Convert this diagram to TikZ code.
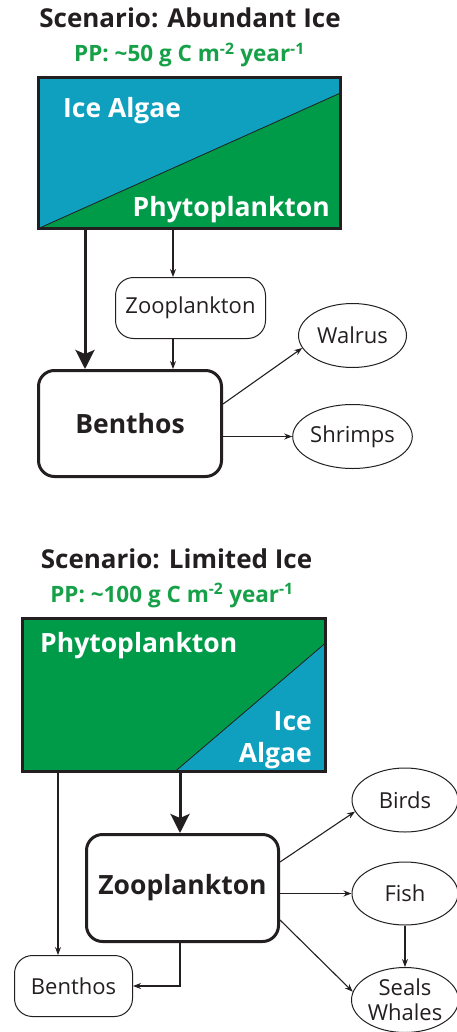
\documentclass[tikz,border=0pt]{standalone}
\usepackage{fontspec}
\setmainfont{Open Sans}
\usetikzlibrary{arrows.meta,shapes.geometric}
\definecolor{iceblue}{RGB}{14,160,190}
\definecolor{phygreen}{RGB}{0,155,72}
\definecolor{ppgreen}{RGB}{22,160,72}
\definecolor{ink}{RGB}{35,31,32}
\tikzset{
  titletext/.style={font=\bfseries\fontsize{26}{30}\selectfont, text=ink, inner sep=0pt},
  pptext/.style={font=\bfseries\fontsize{22.5}{26}\selectfont, text=ppgreen, inner sep=0pt},
  boxtext/.style={font=\bfseries\fontsize{26.5}{30}\selectfont, text=white, inner sep=0pt},
  bigbox/.style={draw=ink, line width=3pt, rounded corners=16pt, inner sep=0pt, font=\bfseries\fontsize{26.5}{30}\selectfont, text=ink},
  smallbox/.style={draw=ink, line width=1pt, rounded corners=18pt, inner sep=0pt, font=\fontsize{22}{25}\selectfont, text=ink},
  eat/.style={draw=ink, ellipse, line width=1pt, inner sep=0pt, font=\fontsize{22}{25}\selectfont, text=ink, align=center},
  frame/.style={draw=ink, line width=3pt, inner sep=0pt},
  thinarrow/.style={draw=ink, line width=1.1pt, -{Stealth[length=8pt,width=6pt]}},
  thickarrow/.style={draw=ink, line width=3pt, -{Stealth[length=19pt,width=19pt,inset=4pt]}},
}
\begin{document}
\begin{tikzpicture}[x=1pt,y=-1pt]
\useasboundingbox (0,0) rectangle (457,1032);
\fill[white] (0,0) rectangle (457,1032);
\clip (0,0) rectangle (457,1032);

% ---------- Scenario 1 ----------
\node[titletext, anchor=base] (t1) at (190,28) {Scenario: Abundant Ice};
\node[pptext, anchor=base] (pp1) at (189.5,62) {PP: \textasciitilde50 g C m\textsuperscript{-2} year\textsuperscript{-1}};
\fill[iceblue] (38.5,77.5) rectangle (340.5,228.5);
\fill[phygreen] (38.5,228.5) -- (340.5,228.5) -- (340.5,93) -- cycle;
\draw[ink, line width=0.8pt] (38.5,228.5) -- (340.5,93);
\node[frame, minimum width=302pt, minimum height=151pt] (box1) at (189.5,153) {};
\node[boxtext, anchor=base west] (ia1) at (63,118) {Ice Algae};
\node[boxtext, anchor=base east] (ph1) at (330,217) {Phytoplankton};

\node[smallbox, minimum width=150pt, minimum height=61pt] (zoo1) at (190.5,308) {Zooplankton};
\node[bigbox, minimum width=183pt, minimum height=106pt] (ben1) at (130,423.5) {Benthos};
\node[eat, minimum width=108pt, minimum height=64pt] (wal) at (352.5,335.5) {Walrus};
\node[eat, minimum width=108pt, minimum height=64pt] (shr) at (352.5,436.5) {Shrimps};

\coordinate (b1a) at (85,230);
\coordinate (b1b) at (173,230);
\draw[thickarrow] (b1a) -- (b1a |- ben1.north);
\draw[thinarrow] (b1b) -- (b1b |- zoo1.north);
\draw[thinarrow] (zoo1.south -| b1b) -- (b1b |- ben1.north);
\draw[thinarrow] ([yshift=19.5pt]ben1.east) -- (wal.194);
\draw[thinarrow] (ben1.east |- shr.west) -- (shr.west);

% ---------- Scenario 2 ----------
\node[titletext, anchor=base] (t2) at (176.5,568) {Scenario: Limited Ice};
\node[pptext, anchor=base] (pp2) at (172,602) {PP: \textasciitilde100 g C m\textsuperscript{-2} year\textsuperscript{-1}};
\fill[phygreen] (22.5,618.5) rectangle (325.5,771.5);
\fill[iceblue] (175,771.5) -- (325.5,771.5) -- (325.5,643) -- cycle;
\draw[ink, line width=0.8pt] (175,771.5) -- (325.5,643);
\node[frame, minimum width=303pt, minimum height=153pt] (box2) at (174,695) {};
\node[boxtext, anchor=base west] (ph2) at (40,652) {Phytoplankton};
\node[boxtext, anchor=base east] (ia2a) at (312,730) {Ice};
\node[boxtext, anchor=base east] (ia2b) at (312,762) {Algae};

\node[bigbox, minimum width=192pt, minimum height=107pt] (zoo2) at (182.5,888) {Zooplankton};
\node[smallbox, minimum width=118pt, minimum height=61pt] (ben2) at (73.5,986) {Benthos};
\node[eat, minimum width=106pt, minimum height=64pt] (bir) at (405,800) {Birds};
\node[eat, minimum width=106pt, minimum height=63pt] (fis) at (405,893.5) {Fish};
\node[eat, minimum width=107pt, minimum height=65pt] (sea) at (405,1000) {Seals\\Whales};

\coordinate (b2a) at (58,773);
\coordinate (b2b) at (180,773);
\draw[thinarrow] (b2a) -- (b2a |- ben2.north);
\draw[thickarrow] (b2b) -- (b2b |- zoo2.north);
\draw[thinarrow] (zoo2.south -| b2b) |- (ben2.east);
\draw[thinarrow] ([yshift=26pt]zoo2.east) -- (bir.193);
\draw[thinarrow] (zoo2.east |- fis.west) -- (fis.west);
\draw[thinarrow] ([yshift=-32pt]zoo2.east) -- (sea.171);
\draw[thinarrow] (fis.south) -- (sea.north);
\end{tikzpicture}
\end{document}
